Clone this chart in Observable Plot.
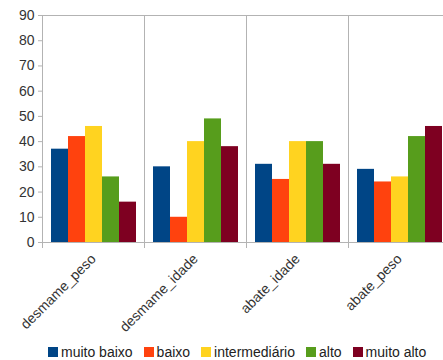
<!DOCTYPE html>
<html>
<head>
<meta charset="utf-8">
<script src="https://cdn.jsdelivr.net/npm/d3@7"></script>
<script src="https://cdn.jsdelivr.net/npm/@observablehq/plot@0.6"></script>
<style>
  html, body { margin: 0; padding: 0; background: #fff; overflow: hidden; }
  #wrap { width: 443px; height: 338px; overflow: hidden; }
  #chart svg { max-width: none !important; display: block; }
  #legend { font-family: "Liberation Sans", Arial, sans-serif; font-size: 14px; color: #222;
    display: flex; align-items: center; padding-left: 48px; padding-top: 3px; height: 22px; white-space: nowrap; }
  .item { display: flex; align-items: center; margin-right: 11px; }
  .sw { width: 10px; height: 10px; margin-right: 3px; display: inline-block; }
</style>
</head>
<body>
<div id="wrap"><div id="chart"></div></div>
<div id="legend"></div>
<script>
const categories = ["desmame_peso", "desmame_idade", "abate_idade", "abate_peso"];
const levels = ["muito baixo", "baixo", "intermediário", "alto", "muito alto"];
const colors = ["#004586", "#ff420e", "#ffd320", "#579d1c", "#7e0021"];
const muitoBaixo = [37, 30, 31, 29];
const baixo = [42, 10, 25, 24];
const intermediario = [46, 40, 40, 26];
const alto = [26, 49, 40, 42];
const muitoAlto = [16, 38, 31, 46];
const yTicks = [0, 10, 20, 30, 40, 50, 60, 70, 80, 90];

const series = [muitoBaixo, baixo, intermediario, alto, muitoAlto];
const data = [];
categories.forEach((c, i) => {
  levels.forEach((l, j) => data.push({cat: c, level: l, value: series[j][i]}));
});

const grid = "#b3b3b3";

const chart = Plot.plot({
  width: 451,
  height: 338,
  marginLeft: 42,
  marginRight: 1,
  marginTop: 15,
  marginBottom: 96,
  style: {fontFamily: "Liberation Sans, Arial, sans-serif", fontSize: "14px", color: "#333", background: "#fff"},
  fx: {domain: categories, padding: 0, label: null},
  x: {domain: levels, paddingInner: 0, paddingOuter: 0.5, axis: null},
  y: {domain: [0, 90], label: null},
  color: {domain: levels, range: colors},
  marks: [
    Plot.frame({anchor: "top", stroke: grid, strokeOpacity: 1}),
    Plot.frame({anchor: "left", stroke: grid, strokeOpacity: 1, insetBottom: -5}),
    Plot.barY(data, {fx: "cat", x: "level", y: "value", fill: "level"}),
    Plot.ruleY([0], {stroke: grid}),
    Plot.axisY({ticks: yTicks, tickSize: 4, tickPadding: 4, stroke: grid, label: null, fontSize: 14}),
    Plot.axisFx({anchor: "bottom", tickSize: 0, tickPadding: 14, tickRotate: -45, label: null, fontSize: 14})
  ]
});
document.getElementById("chart").appendChild(chart);

const legend = document.getElementById("legend");
levels.forEach((l, j) => {
  const it = document.createElement("span");
  it.className = "item";
  const sw = document.createElement("span");
  sw.className = "sw";
  sw.style.background = colors[j];
  it.appendChild(sw);
  it.appendChild(document.createTextNode(l));
  legend.appendChild(it);
});
</script>
</body>
</html>
